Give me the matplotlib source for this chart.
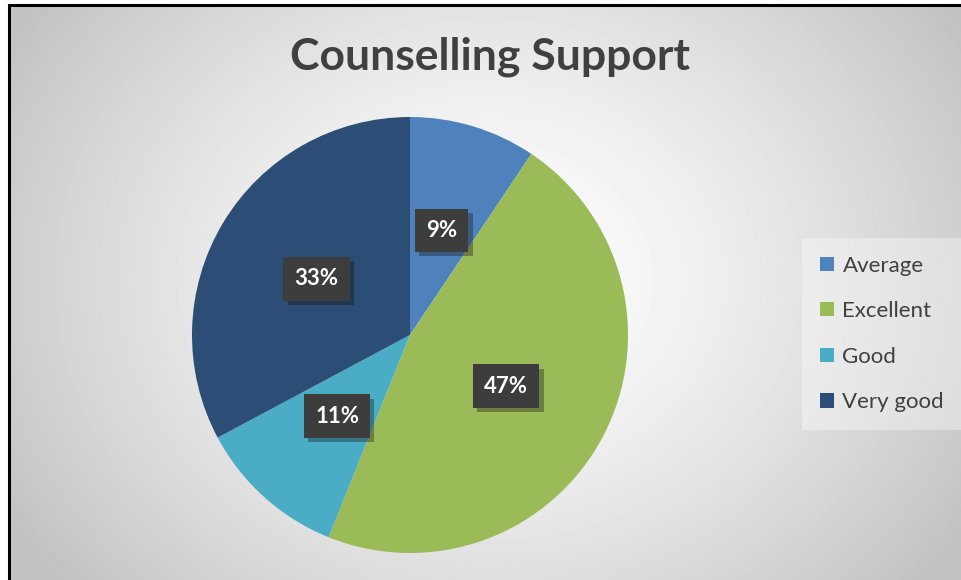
import numpy as np
import matplotlib.pyplot as plt
import matplotlib.patheffects as pe
from matplotlib.patches import Rectangle

# data
categories = ['Average', 'Excellent', 'Good', 'Very good']
shares = [9.4, 46.7, 11.1, 32.8]
colors = ['#4F81BD', '#9BBB59', '#4BACC6', '#2C4D75']

plt.rcParams['font.family'] = ['Lato', 'DejaVu Sans']

fig = plt.figure(figsize=(9.62, 5.80), dpi=100)

# radial gradient background
bg = fig.add_axes([9/962, 0, 1 - 9/962, 1 - 5/580], zorder=-10)
yy, xx = np.mgrid[0:575, 0:953]
r = np.sqrt(((xx - 480) / 560.0) ** 2 + ((yy - 300) / 470.0) ** 2)
val = 1 - 0.24 * np.clip(r, 0, 1) ** 1.4
bg.imshow(val, cmap='gray', vmin=0, vmax=1, aspect='auto', extent=[0, 1, 0, 1], origin='lower')
bg.set_axis_off()

# border
fig.patches.append(Rectangle((9/962, -0.01), 1.0, 1 - 5/580 + 0.01, transform=fig.transFigure,
                             fill=False, edgecolor='black', linewidth=2.2, zorder=5))

fig.text(490/962, 1 - 57/580, 'Counselling Support', ha='center', va='center',
         fontsize=32, fontweight='bold', color='#404040')

pie_ax = fig.add_axes([(410 - 218)/962, 1 - (335 + 218)/580, 436/962, 436/580])
wedges, texts, autotexts = pie_ax.pie(shares, colors=colors, startangle=90, counterclock=False,
                                      autopct='%1.0f%%', pctdistance=0.5,
                                      wedgeprops=dict(linewidth=0))
for t in autotexts:
    t.set_color('white')
    t.set_fontsize(16)
    t.set_fontweight('bold')
    t.set_bbox(dict(boxstyle='square,pad=0.5', facecolor='#3d3d3d', edgecolor='none'))
    t.get_bbox_patch().set_path_effects([pe.SimplePatchShadow(offset=(3, -3), alpha=0.35), pe.Normal()])
pie_ax.set_xlim(-1, 1)
pie_ax.set_ylim(-1, 1)
pie_ax.set_aspect('equal')

leg = fig.legend(wedges, categories, loc='center left', bbox_to_anchor=(798/962, 1 - 334/580),
                 frameon=True, fontsize=16, handlelength=0.6, handleheight=0.6,
                 labelspacing=1.15, handletextpad=0.4, borderpad=0.5, labelcolor='#404040')
leg.get_frame().set_facecolor('white')
leg.get_frame().set_alpha(0.35)
leg.get_frame().set_edgecolor('none')
leg.get_frame().set_boxstyle('square')

fig.savefig('out.png', dpi=100)
